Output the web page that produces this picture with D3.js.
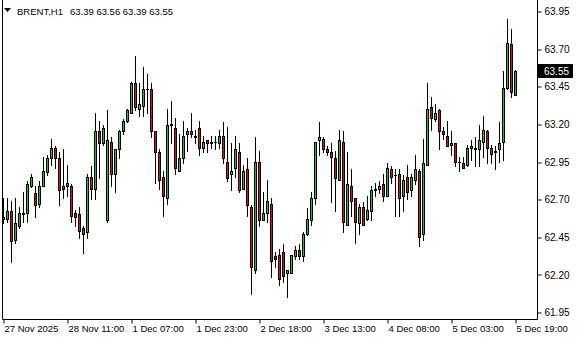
<!DOCTYPE html>
<html>
<head>
<meta charset="utf-8">
<script src="https://cdn.jsdelivr.net/npm/d3@7"></script>
<style>
body { margin: 0; background: #fff; }
svg text { font-family: "Liberation Sans", Arial, sans-serif; font-size: 9.5px; fill: #000; }
</style>
</head>
<body>
<script>
// hourly Brent bars
const opens = [62.57,62.57,62.62,62.43,62.52,62.60,62.61,62.79,62.74,62.67,
  62.79,62.88,62.97,63.04,62.97,62.79,62.79,62.79,62.61,62.60,
  62.51,62.48,62.85,62.77,63.15,63.07,62.56,63.08,62.87,63.03,
  63.15,63.22,63.27,63.47,63.30,63.32,63.43,63.43,63.15,63.01,
  62.85,62.71,63.20,63.17,62.89,62.97,63.13,63.15,63.12,63.17,
  63.04,63.09,63.07,63.08,63.07,63.12,62.95,62.87,62.91,63.01,
  62.77,62.90,62.65,62.23,62.95,62.56,62.61,62.67,62.32,62.33,
  62.35,62.21,62.21,62.32,62.36,62.32,62.47,62.56,62.71,63.09,
  63.10,63.03,63.01,62.97,62.83,63.08,62.53,62.79,62.71,62.54,
  62.65,62.57,62.62,62.76,62.77,62.80,62.72,62.90,62.86,62.87,
  62.72,62.85,62.76,62.83,62.89,62.47,62.93,63.31,63.23,63.29,
  63.15,63.12,63.06,63.07,62.95,62.94,62.93,63.04,63.03,63.03,
  63.08,63.15,63.04,63.01,63.03,63.08,63.44,63.73,63.39];
const highs = [62.71,62.71,62.69,62.71,62.65,62.75,62.82,62.87,62.79,62.82,
  62.98,62.99,63.10,63.05,63.01,63.03,62.93,62.80,62.63,62.65,
  62.52,62.87,62.92,63.27,63.22,63.19,63.29,63.11,63.03,63.16,
  63.23,63.30,63.48,63.65,63.47,63.58,63.53,63.47,63.15,63.03,
  62.89,63.30,63.35,63.24,63.13,63.22,63.17,63.27,63.16,63.22,
  63.12,63.09,63.12,63.12,63.16,63.21,63.18,63.07,63.12,63.07,
  62.93,62.97,62.66,63.11,63.02,62.75,62.83,62.71,62.35,62.37,
  62.40,62.23,62.33,62.39,62.40,62.48,62.64,62.75,63.08,63.21,
  63.11,63.05,63.07,63.02,63.16,63.15,63.01,62.90,62.71,62.67,
  62.68,62.72,62.79,62.81,62.82,62.87,62.94,62.92,62.90,62.90,
  62.86,62.93,62.87,62.99,62.90,63.10,63.47,63.38,63.33,63.30,
  63.18,63.22,63.15,63.07,62.98,62.98,63.06,63.09,63.11,63.19,
  63.25,63.16,63.06,63.05,63.21,63.55,63.90,63.83,63.56];
const lows = [62.54,62.55,62.28,62.41,62.51,62.55,62.55,62.78,62.58,62.65,
  62.79,62.86,62.93,62.91,62.66,62.71,62.72,62.55,62.52,62.44,
  62.34,62.44,62.70,62.70,62.84,63.06,62.55,62.79,62.75,62.97,
  63.13,63.21,63.27,63.29,63.25,63.25,63.27,63.11,62.81,62.77,
  62.59,62.67,63.07,62.87,62.89,62.94,63.02,63.11,63.07,62.99,
  63.01,63.01,63.04,63.03,63.04,62.94,62.82,62.76,62.85,62.75,
  62.77,62.59,62.07,62.21,62.52,62.56,62.55,62.18,62.25,62.13,
  62.15,62.05,62.21,62.30,62.30,62.29,62.46,62.53,62.67,62.99,
  63.01,62.99,62.68,62.62,62.83,62.48,62.53,62.59,62.41,62.47,
  62.53,62.56,62.56,62.72,62.74,62.69,62.72,62.81,62.59,62.59,
  62.62,62.70,62.72,62.80,62.39,62.43,62.93,63.16,63.22,63.03,
  63.10,63.05,62.99,62.92,62.89,62.91,62.92,62.96,62.92,62.92,
  62.98,62.94,62.94,62.90,62.95,62.96,63.43,63.38,63.39];
const closes = [62.58,62.62,62.42,62.54,62.61,62.61,62.80,62.85,62.66,62.79,
  62.89,62.97,63.04,62.97,62.76,62.77,62.81,62.59,62.58,62.49,
  62.47,62.85,62.77,63.15,63.07,63.17,63.09,62.87,63.03,63.15,
  63.22,63.29,63.47,63.31,63.33,63.43,63.43,63.15,63.01,62.83,
  62.72,63.19,63.19,62.91,62.97,63.12,63.15,63.13,63.11,63.04,
  63.08,63.07,63.08,63.08,63.12,62.97,62.84,62.89,63.03,62.76,
  62.89,62.66,62.25,62.95,62.56,62.61,62.69,62.29,62.30,62.17,
  62.19,62.23,62.33,62.36,62.32,62.47,62.57,62.71,63.08,63.11,
  63.03,63.01,62.98,62.84,63.09,62.55,62.80,62.69,62.55,62.65,
  62.53,62.63,62.76,62.77,62.79,62.72,62.91,62.85,62.86,62.71,
  62.83,62.75,62.85,62.90,62.45,62.94,63.30,63.24,63.27,63.15,
  63.13,63.05,63.07,62.95,62.95,62.91,63.04,63.05,63.04,63.09,
  63.16,63.04,63.00,63.02,63.07,63.44,63.74,63.41,63.55];

const timeTicks = [0, 16, 32, 48, 64, 80, 96, 112, 128];
const timeLabels = ["27 Nov 2025", "28 Nov 11:00", "1 Dec 07:00", "1 Dec 23:00", "2 Dec 18:00",
  "3 Dec 13:00", "4 Dec 08:00", "5 Dec 03:00", "5 Dec 19:00"];
const priceTicks = [61.95, 62.20, 62.45, 62.70, 62.95, 63.20, 63.45, 63.70, 63.95];
const symbol = "BRENT,H1";

const width = 580;
const height = 340;
const upColor = "#32b432";
const downColor = "#d21414";

const bars = opens.map((o, i) => ({i: i, o: o, h: highs[i], l: lows[i], c: closes[i]}));
const last = bars[bars.length - 1];

const svg = d3.select("body").append("svg")
    .attr("width", width)
    .attr("height", height);

const x = d3.scalePoint()
    .domain(d3.range(bars.length))
    .range([3, 515]);

const y = d3.scaleLinear()
    .domain([61.95, 63.95])
    .range([312, 11]);

const py = v => Math.round(y(v)) + 0.5;

// frame
svg.append("path")
    .attr("d", "M2.5,0V319.5H537.5V0")
    .attr("fill", "none")
    .attr("stroke", "#000");

// candles
const g = svg.append("g");

g.selectAll("line.wick")
    .data(bars)
    .enter()
    .append("line")
    .attr("class", "wick")
    .attr("x1", d => x(d.i) + 0.5)
    .attr("x2", d => x(d.i) + 0.5)
    .attr("y1", d => Math.round(y(d.h)))
    .attr("y2", d => Math.round(y(d.l)) + 1)
    .attr("stroke", "#000");

g.selectAll("rect.body")
    .data(bars.filter(d => Math.round(y(d.o)) !== Math.round(y(d.c))))
    .enter()
    .append("rect")
    .attr("class", "body")
    .attr("x", d => x(d.i) - 0.5)
    .attr("y", d => py(Math.max(d.o, d.c)))
    .attr("width", 2)
    .attr("height", d => Math.abs(Math.round(y(d.o)) - Math.round(y(d.c))))
    .attr("fill", d => d.c >= d.o ? upColor : downColor)
    .attr("stroke", "#000");

g.selectAll("line.doji")
    .data(bars.filter(d => Math.round(y(d.o)) === Math.round(y(d.c))))
    .enter()
    .append("line")
    .attr("class", "doji")
    .attr("x1", d => x(d.i) - 1)
    .attr("x2", d => x(d.i) + 2)
    .attr("y1", d => py(d.c))
    .attr("y2", d => py(d.c))
    .attr("stroke", "#000");

// price axis
const yAxis = svg.append("g")
    .attr("transform", "translate(537.5,0.5)")
    .call(d3.axisRight(y).tickValues(priceTicks).tickSize(4).tickPadding(3).tickFormat(d3.format(".2f")));
yAxis.select(".domain").remove();
yAxis.selectAll("line").attr("transform", d => `translate(0,${Math.round(y(d)) - y(d)})`);
yAxis.selectAll("text").style("font-size", "10px").attr("font-family", null);

// time axis
const xAxis = svg.append("g")
    .attr("transform", "translate(0.5,319.5)")
    .call(d3.axisBottom(x).tickValues(timeTicks).tickSize(4).tickPadding(1.5)
        .tickFormat((d, k) => timeLabels[k]));
xAxis.select(".domain").remove();
xAxis.selectAll("text")
    .attr("text-anchor", "start")
    .attr("dx", "0.5")
    .style("font-size", "9.5px");

// last price tag
const tagY = Math.round(y(last.c));
svg.append("rect")
    .attr("x", 538)
    .attr("y", tagY - 7)
    .attr("width", 35)
    .attr("height", 14)
    .attr("fill", "#000");
svg.append("text")
    .attr("x", 544)
    .attr("y", tagY + 4)
    .style("fill", "#fff")
    .style("font-size", "10px")
    .text(d3.format(".2f")(last.c));

// header
svg.append("path")
    .attr("d", "M4,8H11L7.5,12Z")
    .attr("fill", "#000");
svg.append("text")
    .attr("x", 17)
    .attr("y", 15)
    .text(symbol);
svg.append("text")
    .attr("x", 70)
    .attr("y", 15)
    .text([last.o, last.h, last.l, last.c].map(d3.format(".2f")).join(" "));
</script>
</body>
</html>
